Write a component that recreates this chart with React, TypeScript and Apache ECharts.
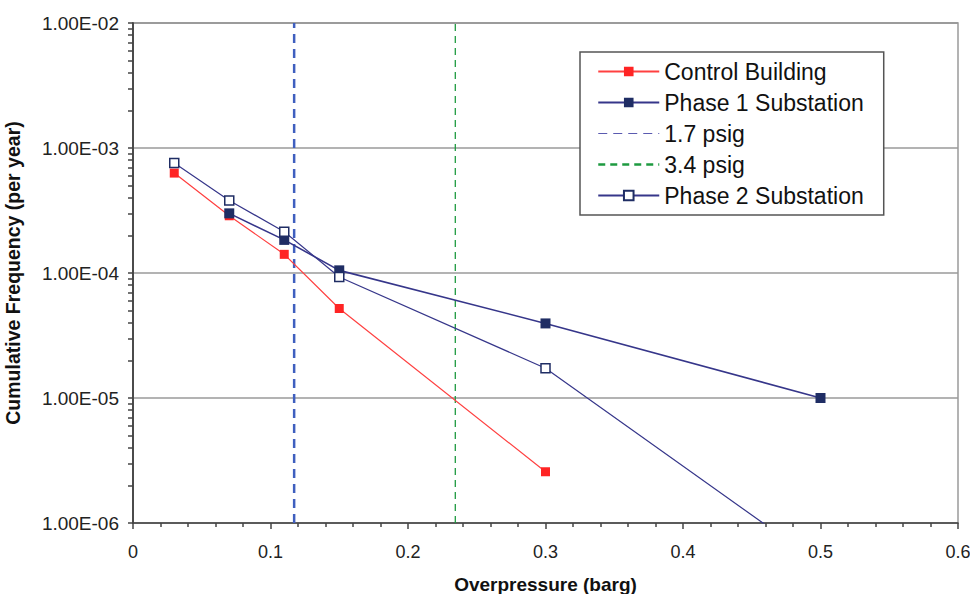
import React, { useEffect, useRef } from "react";
import * as echarts from "echarts";

const xControl = [0.03, 0.07, 0.11, 0.15, 0.3];
const yControl = [6.3e-4, 2.87e-4, 1.41e-4, 5.2e-5, 2.57e-6];
const xPhase1 = [0.07, 0.11, 0.15, 0.3, 0.5];
const yPhase1 = [3.0e-4, 1.84e-4, 1.05e-4, 3.95e-5, 1.0e-5];
const xPhase2 = [0.03, 0.07, 0.11, 0.15, 0.3, 0.5];
const yPhase2 = [7.6e-4, 3.8e-4, 2.14e-4, 9.3e-5, 1.73e-5, 4.7e-7];
const psig17 = 0.1172;
const psig34 = 0.2344;
const yDecades = [1e-6, 1e-5, 1e-4, 1e-3, 1e-2];
const yTickLabels = ["1.00E-06", "1.00E-05", "1.00E-04", "1.00E-03", "1.00E-02"];
const seriesNames = ["Control Building", "Phase 1 Substation", "1.7 psig", "3.4 psig", "Phase 2 Substation"];

const FONT = "'Liberation Sans', Arial, sans-serif";

function zip(xs: number[], ys: number[]) {
  return xs.map((x, i) => [x, ys[i]]);
}

export default function App() {
  const ref = useRef<HTMLDivElement>(null);
  useEffect(() => {
    if (!ref.current) return;
    const chart = echarts.init(ref.current, null, { renderer: "svg" });
    const minorTicks: number[] = [];
    for (let d = 0; d < yDecades.length; d++) {
      if (d === yDecades.length - 1) {
        minorTicks.push(yDecades[d]);
        break;
      }
      for (let k = 1; k <= 9; k++) minorTicks.push(parseFloat((k * yDecades[d]).toPrecision(3)));
    }
    const navy = "#1f2d64";
    const navyLine = "#36368a";
    const red = "#ff2424";
    const yMin = yDecades[0];
    const yMax = yDecades[yDecades.length - 1];
    chart.setOption({
      animation: false,
      backgroundColor: "#fff",
      grid: {
        left: 133,
        right: 12,
        top: 23,
        bottom: 71,
        containLabel: false,
        outerBoundsMode: "none",
        show: true,
        borderColor: "#9a9a9a",
        borderWidth: 1.5,
        backgroundColor: "transparent",
      },
      legend: {
        orient: "vertical",
        left: 580,
        top: 52,
        data: [
          { name: seriesNames[0] },
          { name: seriesNames[1] },
          { name: seriesNames[2], lineStyle: { color: "#5a5ab0", width: 1.2 } },
          { name: seriesNames[3], lineStyle: { color: "#1e9a40", width: 2.5 } },
          { name: seriesNames[4] },
        ],
        backgroundColor: "#fff",
        borderColor: "#555",
        borderWidth: 1.5,
        borderRadius: 0,
        padding: [8, 20, 8, 17],
        itemWidth: 61,
        itemHeight: 12,
        itemGap: 8,
        textStyle: { fontSize: 23, color: "#111", fontFamily: FONT },
      },
      xAxis: {
        type: "value",
        min: 0,
        max: 0.6,
        interval: 0.1,
        axisLine: { show: true, lineStyle: { color: "#444", width: 1.5 } },
        axisTick: { show: true, inside: false, length: 6, lineStyle: { color: "#444", width: 1.5 } },
        minorTick: { show: true, splitNumber: 5, length: 4, lineStyle: { color: "#444", width: 1.5 } },
        splitLine: { show: false },
        axisLabel: { fontSize: 18, color: "#222", fontFamily: FONT, margin: 20 },
        name: "Overpressure (barg)",
        nameLocation: "middle",
        nameGap: 52,
        nameTextStyle: { fontSize: 19, fontWeight: "bold", color: "#111", fontFamily: FONT },
      },
      yAxis: [
        {
          type: "log",
          logBase: 10,
          min: yMin,
          max: yMax,
          position: "left",
          axisLine: { show: true, lineStyle: { color: "#444", width: 1.5 } },
          axisTick: { show: false },
          splitLine: { show: true, lineStyle: { color: "#9a9a9a", width: 1.5 } },
          axisLabel: {
            fontSize: 19,
            color: "#222",
            fontFamily: FONT,
            margin: 14,
            customValues: yDecades,
            formatter: (v: number) => {
              const idx = yDecades.findIndex((d) => Math.abs(Math.log10(d) - Math.log10(v)) < 1e-6);
              return idx >= 0 ? yTickLabels[idx] : "";
            },
          },
          name: "Cumulative Frequency (per year)",
          nameLocation: "middle",
          nameGap: 110,
          nameTextStyle: { fontSize: 19.5, fontWeight: "bold", color: "#111", fontFamily: FONT },
        },
        {
          type: "log",
          logBase: 10,
          min: yMin,
          max: yMax,
          position: "left",
          offset: 0,
          axisLine: { show: true, lineStyle: { color: "#444", width: 1.5 } },
          axisTick: { show: true, inside: false, length: 5, customValues: minorTicks, lineStyle: { color: "#444", width: 1.5 } },
          splitLine: { show: false },
          axisLabel: { show: false },
        },
      ],
      series: [
        {
          name: seriesNames[0],
          type: "line",
          data: zip(xControl, yControl),
          symbol: "rect",
          symbolSize: 9,
          itemStyle: { color: red },
          lineStyle: { color: "#ff4040", width: 1.2 },
          z: 3,
        },
        {
          name: seriesNames[1],
          type: "line",
          data: zip(xPhase1, yPhase1),
          symbol: "rect",
          symbolSize: 10,
          itemStyle: { color: navy },
          lineStyle: { color: navyLine, width: 1.6 },
          z: 4,
        },
        {
          name: seriesNames[2],
          type: "line",
          data: [
            [psig17, yMin],
            [psig17, yMax],
          ],
          symbol: "rect",
          showSymbol: false,
          itemStyle: { color: "transparent", borderWidth: 0 },
          lineStyle: { color: "#3f5fbf", width: 2.5, type: [9, 6] },
          z: 2,
        },
        {
          name: seriesNames[3],
          type: "line",
          data: [
            [psig34, yMin],
            [psig34, yMax],
          ],
          symbol: "rect",
          showSymbol: false,
          itemStyle: { color: "transparent", borderWidth: 0 },
          lineStyle: { color: "#1e9a40", width: 1.3, type: [7, 5] },
          z: 2,
        },
        {
          name: seriesNames[4],
          type: "line",
          data: zip(xPhase2, yPhase2),
          symbol: "rect",
          symbolSize: 9,
          itemStyle: { color: "#fff", borderColor: navy, borderWidth: 1.5 },
          lineStyle: { color: navyLine, width: 1.2 },
          z: 5,
        },
      ],
    });
    return () => chart.dispose();
  }, []);
  return <div ref={ref} style={{ width: 970, height: 594, position: "absolute", left: 0, top: 0 }} />;
}
